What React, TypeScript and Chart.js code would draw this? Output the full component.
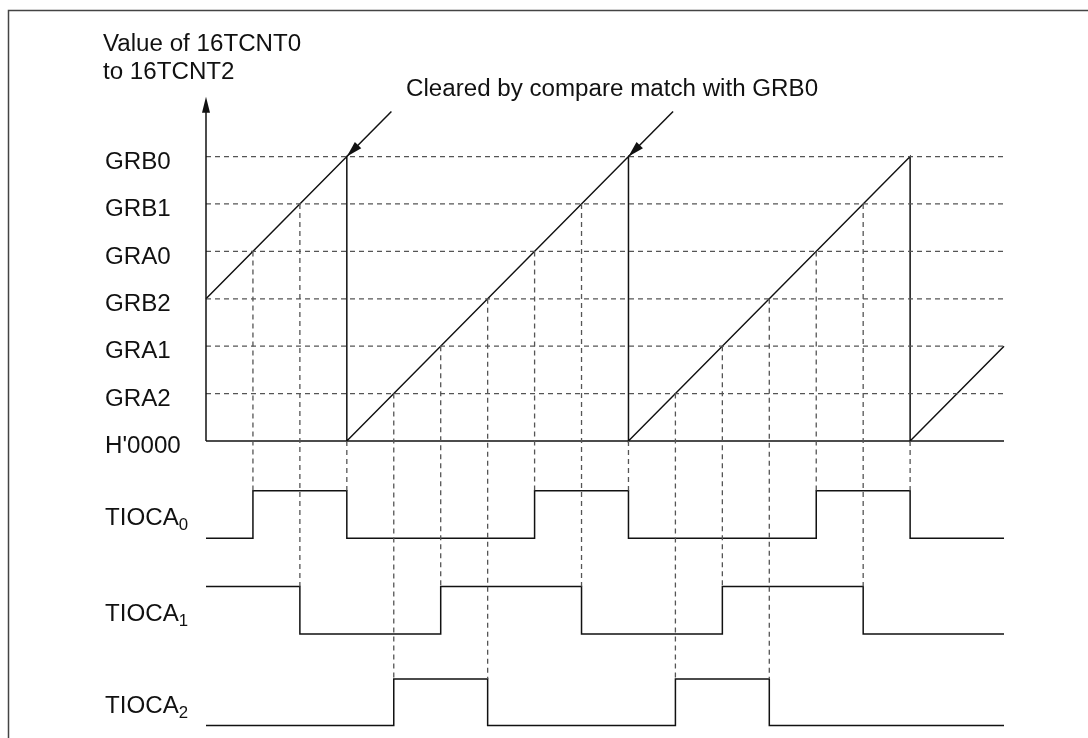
import React, { useEffect, useRef } from "react";
import { Chart, registerables } from "chart.js";

Chart.register(...registerables);

// ---- data ----
const levelNames = ["H'0000", "GRA2", "GRA1", "GRB2", "GRA0", "GRB1", "GRB0"];
const levelValues = [0, 1, 2, 3, 4, 5, 6];
const timeMin = 0;
const timeMax = 17;
const axisTop = 7.26;

const counterTimes = [0, 3, 3, 9, 9, 15, 15, 17];
const counterValues = [3, 6, 0, 6, 0, 6, 0, 2];

const signalNames = ["TIOCA", "TIOCA", "TIOCA"];
const signalSubs = ["0", "1", "2"];
const signalHigh = [-1.05, -3.07, -5.02];
const signalLow = [-2.05, -4.07, -6.0];

const tioca0Times = [0, 1, 3, 7, 9, 13, 15, 17];
const tioca0States = [0, 1, 0, 1, 0, 1, 0, 0];
const tioca1Times = [0, 2, 5, 8, 11, 14, 17];
const tioca1States = [1, 0, 1, 0, 1, 0, 0];
const tioca2Times = [0, 4, 6, 10, 12, 17];
const tioca2States = [0, 1, 0, 1, 0, 0];

const guideTimes = [1, 2, 3, 4, 5, 6, 7, 8, 9, 10, 11, 12, 13, 14, 15];
const guideFrom = [4, 5, 0, 1, 2, 3, 4, 5, 0, 1, 2, 3, 4, 5, 0];
const guideSignal = [0, 1, 0, 2, 1, 2, 0, 1, 0, 2, 1, 2, 0, 1, 0];

const clearTimes = [3, 9];
const clearTail = [0.95, 0.95];

const yTitle = ["Value of 16TCNT0", "to 16TCNT2"];
const clearNote = "Cleared by compare match with GRB0";

const FONT = '"Liberation Sans", Arial, Helvetica, sans-serif';
const INK = "#111";
const DASH = "#555";

export default function App() {
  const ref = useRef<HTMLCanvasElement | null>(null);

  useEffect(() => {
    if (!ref.current) return;

    const datasets: any[] = [];
    const solid = (data: any[], extra: any = {}) => ({
      data,
      showLine: true,
      borderColor: INK,
      borderWidth: 1.5,
      pointRadius: 0,
      fill: false,
      tension: 0,
      clip: false,
      ...extra,
    });

    // horizontal dashed level lines
    levelValues.forEach((v) => {
      if (v === 0) return;
      datasets.push(
        solid(
          [
            { x: timeMin, y: v },
            { x: timeMax, y: v },
          ],
          { borderColor: DASH, borderWidth: 1.3, borderDash: [5, 4] }
        )
      );
    });
    // vertical dashed guides
    guideTimes.forEach((t, i) => {
      datasets.push(
        solid(
          [
            { x: t, y: guideFrom[i] },
            { x: t, y: signalHigh[guideSignal[i]] },
          ],
          { borderColor: DASH, borderWidth: 1.3, borderDash: [5, 4] }
        )
      );
    });
    // base line H'0000
    datasets.push(
      solid([
        { x: timeMin, y: 0 },
        { x: timeMax, y: 0 },
      ])
    );
    // counter sawtooth
    datasets.push(
      solid(counterTimes.map((t, i) => ({ x: t, y: counterValues[i] })))
    );
    // signals
    const sigs = [
      [tioca0Times, tioca0States],
      [tioca1Times, tioca1States],
      [tioca2Times, tioca2States],
    ];
    sigs.forEach(([times, states], k) => {
      datasets.push(
        solid(
          times.map((t, i) => ({
            x: t,
            y: states[i] ? signalHigh[k] : signalLow[k],
          })),
          { stepped: "before" }
        )
      );
    });

    const SX = 1.05;
    const text = (ctx: any, s: string, x: number, y: number) => {
      ctx.save();
      ctx.translate(x, y);
      ctx.scale(SX, 1);
      ctx.fillText(s, 0, 0);
      ctx.restore();
      return ctx.measureText(s).width * SX;
    };

    const decor = {
      id: "decor",
      afterDatasetsDraw(chart: any) {
        const ctx = chart.ctx;
        const xs = chart.scales.x;
        const ys = chart.scales.y;
        ctx.save();
        // frame
        ctx.strokeStyle = "#444";
        ctx.lineWidth = 1.5;
        ctx.beginPath();
        ctx.moveTo(8.5, 738);
        ctx.lineTo(8.5, 10.5);
        ctx.lineTo(1088, 10.5);
        ctx.stroke();

        // y axis with arrow
        const ax = xs.getPixelForValue(timeMin);
        const ay0 = ys.getPixelForValue(0);
        const ayT = ys.getPixelForValue(axisTop);
        ctx.strokeStyle = INK;
        ctx.fillStyle = INK;
        ctx.lineWidth = 1.5;
        ctx.beginPath();
        ctx.moveTo(ax, ay0);
        ctx.lineTo(ax, ayT + 12);
        ctx.stroke();
        ctx.beginPath();
        ctx.moveTo(ax, ayT);
        ctx.lineTo(ax - 4, ayT + 16);
        ctx.lineTo(ax + 4, ayT + 16);
        ctx.closePath();
        ctx.fill();

        // clear arrows
        clearTimes.forEach((t, i) => {
          const x1 = xs.getPixelForValue(t + clearTail[i]);
          const y1 = ys.getPixelForValue(6 + clearTail[i]);
          const x2 = xs.getPixelForValue(t);
          const y2 = ys.getPixelForValue(6);
          const ang = Math.atan2(y2 - y1, x2 - x1);
          ctx.beginPath();
          ctx.moveTo(x1, y1);
          ctx.lineTo(x2, y2);
          ctx.stroke();
          const L = 16,
            W = 4.5;
          const bx = x2 - L * Math.cos(ang);
          const by = y2 - L * Math.sin(ang);
          ctx.beginPath();
          ctx.moveTo(x2, y2);
          ctx.lineTo(bx + W * Math.sin(ang), by - W * Math.cos(ang));
          ctx.lineTo(bx - W * Math.sin(ang), by + W * Math.cos(ang));
          ctx.closePath();
          ctx.fill();
        });

        // texts
        ctx.fillStyle = "#111";
        ctx.textAlign = "left";
        ctx.textBaseline = "alphabetic";
        ctx.font = "23px " + FONT;
        text(ctx, yTitle[0], 103, 50.5);
        text(ctx, yTitle[1], 103, 78.5);
        text(ctx, clearNote, 406, 96);

        levelNames.forEach((name, i) => {
          const py = ys.getPixelForValue(levelValues[i]);
          text(ctx, name, 105, py + 12.3);
        });

        signalNames.forEach((name, k) => {
          const mid =
            (ys.getPixelForValue(signalHigh[k]) +
              ys.getPixelForValue(signalLow[k])) /
            2;
          ctx.font = "23px " + FONT;
          const w = text(ctx, name, 105, mid + 10.5);
          ctx.font = "16px " + FONT;
          text(ctx, signalSubs[k], 105 + w, mid + 15.5);
        });
        ctx.restore();
      },
    };

    const chart = new Chart(ref.current, {
      type: "scatter",
      data: { datasets },
      options: {
        animation: false,
        responsive: false,
        devicePixelRatio: 1,
        layout: { padding: { left: 206, right: 84, top: 90.2, bottom: 3.1 } },
        plugins: {
          legend: { display: false },
          tooltip: { enabled: false },
          title: { display: false },
        },
        scales: {
          x: { type: "linear", min: timeMin, max: timeMax, display: false },
          y: { type: "linear", min: -6.2, max: 7.4, display: false },
        },
      },
      plugins: [decor],
    });
    return () => chart.destroy();
  }, []);

  return (
    <div
      style={{
        position: "fixed",
        left: 0,
        top: 0,
        width: 1088,
        height: 738,
        background: "#fff",
      }}
    >
      <canvas ref={ref} width={1088} height={738} style={{ display: "block" }} />
    </div>
  );
}
